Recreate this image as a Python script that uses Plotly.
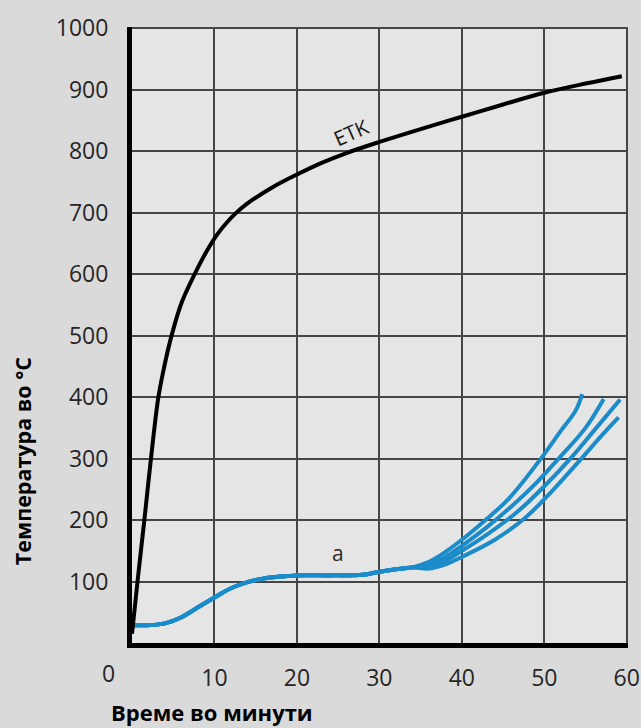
import plotly.graph_objects as go

# ---- data ----
etk_t = [0, 0.75, 1.5, 2.3, 3.2, 4.0, 4.8, 6.0, 7.6, 9.0, 10.3, 11.5, 12.5, 14.0, 17.0, 20.0, 23.0, 26.0, 30.0, 35.0, 40.0, 45.0, 50.0, 55.0, 59.4]
etk_v = [15, 110, 200, 300, 400, 455, 500, 553, 600, 636, 664, 684, 698, 715, 741, 762, 781, 797, 815, 836, 856, 876, 895, 910, 922]

base_t = [0, 2, 4, 6, 8, 10, 12, 14, 16, 18, 20, 24, 28, 30, 32, 34]
base_v = [29, 29, 32, 42, 58, 74, 89, 99, 105, 108, 110, 110, 111, 116, 120, 123]

branch_a_t = [36, 38, 40, 42, 45.7, 49.7, 52, 53.8, 54.6]
branch_a_v = [132, 148, 168, 190, 235, 302, 345, 378, 405]
branch_b_t = [36, 38, 40, 43, 46, 49, 51.6, 55, 57.2]
branch_b_v = [128, 140, 158, 188, 222, 260, 298, 350, 397]
branch_c_t = [36, 38, 40, 43, 46.7, 50, 53.3, 56, 59.2]
branch_c_v = [125, 134, 150, 176, 213, 255, 302, 345, 396]
branch_d_t = [36, 38, 40, 44, 47.8, 51, 54.5, 57, 59]
branch_d_v = [121, 128, 140, 168, 205, 248, 300, 338, 367]

x_tick_vals = [10, 20, 30, 40, 50, 60]
y_tick_vals = [100, 200, 300, 400, 500, 600, 700, 800, 900, 1000]

BLUE = "#1b8bc9"
FONT = "Open Sans"
TICK_COLOR = "#262626"
PAPER = "#dadada"

fig = go.Figure()
for bt, bv in [(branch_a_t, branch_a_v), (branch_b_t, branch_b_v),
               (branch_c_t, branch_c_v), (branch_d_t, branch_d_v)]:
    fig.add_trace(go.Scatter(x=base_t + bt, y=base_v + bv, mode="lines",
                             line=dict(color=BLUE, width=4, shape="spline", smoothing=1.0),
                             showlegend=False, hoverinfo="skip"))
fig.add_trace(go.Scatter(x=etk_t, y=etk_v, mode="lines",
                         line=dict(color="black", width=4, shape="spline", smoothing=1.0),
                         showlegend=False, hoverinfo="skip"))

fig.update_layout(
    width=641, height=728,
    margin=dict(l=132, r=13, t=27, b=85, autoexpand=False),
    paper_bgcolor=PAPER,
    plot_bgcolor="#e5e5e5",
    font=dict(family=FONT, color=TICK_COLOR, size=23),
    xaxis=dict(range=[0, 60.15], tickvals=x_tick_vals, showgrid=True,
               gridcolor="#454545", gridwidth=1.5, showline=True, linecolor="black",
               linewidth=5, zeroline=False, ticks="", ticklabelstandoff=10,
               tickfont=dict(size=23, family=FONT, color=TICK_COLOR)),
    yaxis=dict(range=[0, 1002], tickvals=y_tick_vals, showgrid=True,
               gridcolor="#454545", gridwidth=1.5, showline=True, linecolor="black",
               linewidth=5, zeroline=False, ticks="", ticklabelstandoff=14,
               tickfont=dict(size=23, family=FONT, color=TICK_COLOR)),
    annotations=[
        dict(text="0", xref="paper", yref="paper", x=-0.048, y=-0.049,
             showarrow=False, font=dict(size=23, family=FONT, color=TICK_COLOR),
             xanchor="center", yanchor="middle"),
        dict(text="<b>Време во минути</b>", xref="paper", yref="paper",
             x=-0.046, y=-0.112, xanchor="left", yanchor="middle", showarrow=False,
             font=dict(size=22, family=FONT, color="black")),
        dict(text="<b>Температура во °C</b>", xref="paper", yref="paper",
             x=-0.222, y=0.295, xanchor="center", yanchor="middle", showarrow=False,
             textangle=-90, font=dict(size=21.5, family=FONT, color="black")),
        dict(text="ETK", x=26.6, y=832, xref="x", yref="y", showarrow=False,
             textangle=-24, font=dict(size=20.5, family=FONT, color="#1a1a1a")),
        dict(text="a", x=25.0, y=146, xref="x", yref="y", showarrow=False,
             font=dict(size=21, family=FONT, color="#2a2a2a")),
    ],
)

fig.write_html("out.html", config={"displayModeBar": False},
               post_script="document.body.style.margin='0';"
                           "document.body.style.background='" + PAPER + "';")
